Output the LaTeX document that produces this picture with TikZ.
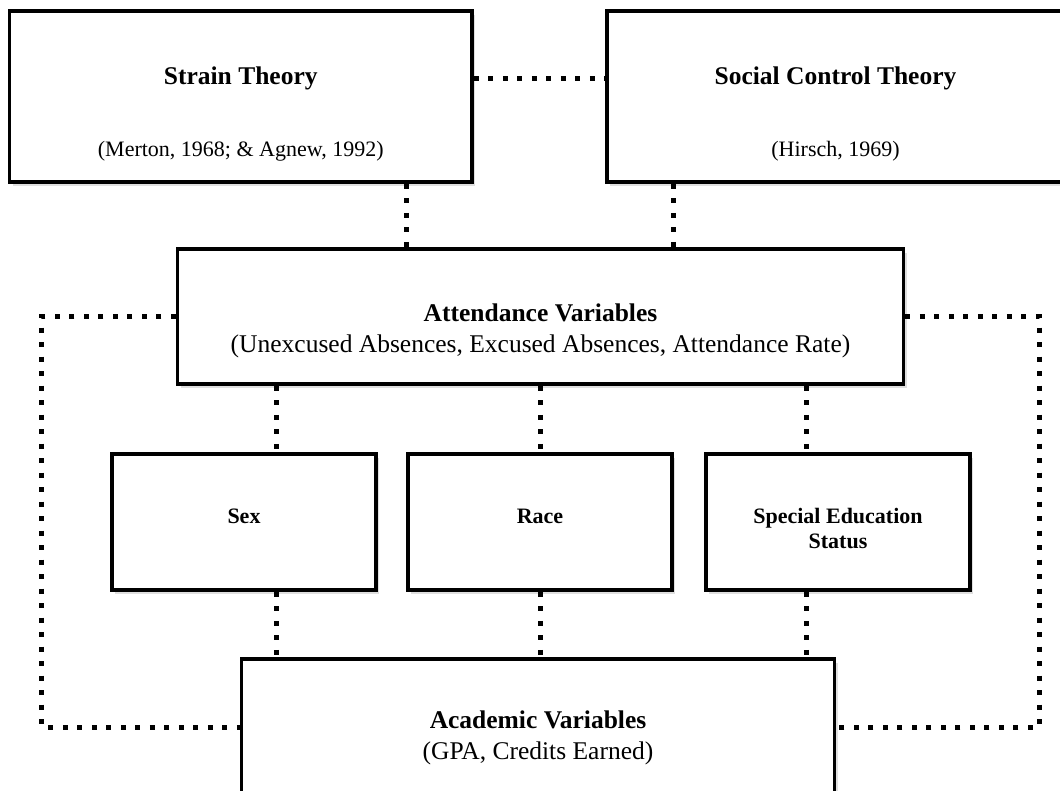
\documentclass[tikz,border=0pt]{standalone}
\usepackage{fontspec}
\setmainfont{Liberation Serif}
\usetikzlibrary{positioning,calc,shadows}

\begin{document}
\begin{tikzpicture}[x=1pt,y=-1pt,
  box/.style={draw, line width=3.5pt, fill=white, inner sep=0pt,
    drop shadow={opacity=0.25, shadow xshift=3pt, shadow yshift=-4pt}},
  link/.style={line width=5pt, dash pattern=on 5pt off 9.5pt},
  head/.style={font=\fontsize{25.5}{32}\selectfont\bfseries, inner sep=0pt},
  cite/.style={font=\fontsize{22}{26}\selectfont, inner sep=0pt},
  vars/.style={font=\fontsize{25.5}{31}\selectfont, align=center, inner sep=0pt},
  factor/.style={font=\fontsize{22}{25}\selectfont\bfseries, align=center, inner sep=0pt}]
\clip (0,0) rectangle (1060,790);

\node[box, minimum width=462.5pt, minimum height=171pt] (strain) at (240.75,96.5) {};
\node[box, minimum width=457pt, minimum height=171pt] (social) at (835.5,96.5) {};
\node[box, minimum width=726pt, minimum height=135pt] (attend) at (540.5,316.5) {};
\node[box, minimum width=264pt, minimum height=136pt] (sex) at (244,522) {};
\node[box, minimum width=264pt, minimum height=136pt] (race) at (540,522) {};
\node[box, minimum width=264pt, minimum height=136pt] (sped) at (838,522) {};
\node[box, minimum width=593pt, minimum height=136pt] (acad) at (538,727) {};

\node[head] (stitle) at ([yshift=-69pt]strain.north) {Strain Theory};
\node[cite] (scite) at ([yshift=-142pt]strain.north) {(Merton, 1968; \& Agnew, 1992)};
\node[head] (ctitle) at ([yshift=-69pt]social.north) {Social Control Theory};
\node[cite] (ccite) at ([yshift=-142pt]social.north) {(Hirsch, 1969)};
\node[vars] (atext) at ([yshift=-84pt]attend.north) {\textbf{Attendance Variables}\\(Unexcused Absences, Excused Absences, Attendance Rate)};
\node[factor] (sextext) at ([yshift=-64pt]sex.north) {Sex};
\node[factor] (racetext) at ([yshift=-64pt]race.north) {Race};
\node[factor] (spedtext) at ([yshift=-76.5pt]sped.north) {Special Education\\Status};
\node[vars] (actext) at ([yshift=-81pt]acad.north) {\textbf{Academic Variables}\\(GPA, Credits Earned)};

\draw[link] (strain.east |- stitle) -- (social.west |- stitle);
\draw[link] (strain.south -| race.west) -- (attend.north -| race.west);
\draw[link] (social.south -| race.east) -- (attend.north -| race.east);
\foreach \b/\dx in {sex/32,race/0,sped/-32}{
  \draw[link] ([xshift=\dx pt]\b.north |- attend.south) -- ([xshift=\dx pt]\b.north);
  \draw[link] ([xshift=\dx pt]\b.south) -- ([xshift=\dx pt]\b.south |- acad.north);
}
\draw[link] (attend.west) -- ++(-134,0) |- (acad.west);
\draw[link] (attend.east) -- ++(134,0) |- (acad.east);
\end{tikzpicture}
\end{document}
